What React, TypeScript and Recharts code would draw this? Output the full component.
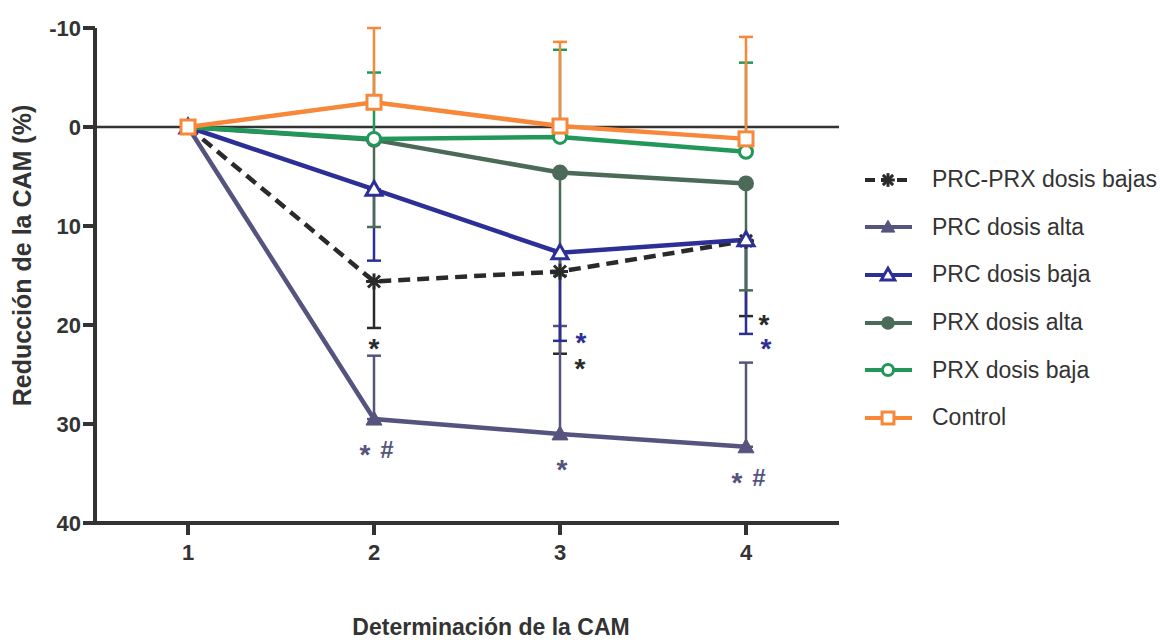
import React from 'react';
import {
  LineChart, Line, XAxis, YAxis, ErrorBar, ReferenceLine, ReferenceDot,
} from 'recharts';

document.body.style.margin = '0';

// x categories: determinación de la CAM
const determinaciones = ['1', '2', '3', '4'];
const yTicks = [-10, 0, 10, 20, 30, 40];

// mean reduction of CAM (%)
const prcPrxBajas = [0, 15.6, 14.6, 11.5];
const prcAlta = [0, 29.5, 31.0, 32.3];
const prcBaja = [0, 6.3, 12.7, 11.4];
const prxAlta = [0, 1.3, 4.6, 5.7];
const prxBaja = [0, 1.2, 1.0, 2.5];
const control = [0, -2.5, -0.1, 1.2];

// one-sided error bars (SD), length in % units
const prcPrxBajasErr = [null, 4.7, 8.3, 7.6];
const prcAltaErr = [null, 6.4, 10.9, 8.5];
const prcBajaErr = [null, 7.2, 8.9, 9.5];
const prxAltaErr = [null, 8.8, 10.4, 10.8];
const prxBajaErr = [null, 6.7, 8.8, 9.0];
const controlErr = [null, 7.5, 8.5, 10.3];

// significance marks: category, value they hang from, text, series
const sigMarks = [
  { det: '2', at: 20.3, text: '*', series: 'prcPrxBajas', place: 'below' },
  { det: '2', at: 29.5, text: '* #', series: 'prcAlta', place: 'under' },
  { det: '3', at: 21.6, text: '*', series: 'prcBaja', place: 'rightUp' },
  { det: '3', at: 22.9, text: '*', series: 'prcPrxBajas', place: 'rightLow' },
  { det: '3', at: 31.0, text: '*', series: 'prcAlta', place: 'under' },
  { det: '4', at: 19.1, text: '*', series: 'prcPrxBajas', place: 'right' },
  { det: '4', at: 20.9, text: '*', series: 'prcBaja', place: 'rightLow' },
  { det: '4', at: 32.3, text: '* #', series: 'prcAlta', place: 'under' },
];

type MarkerKind = 'star' | 'triFilled' | 'triOpen' | 'circleFilled' | 'circleOpen' | 'squareOpen';

const series = [
  { key: 'prcPrxBajas', name: 'PRC-PRX dosis bajas', values: prcPrxBajas, err: prcPrxBajasErr, up: false },
  { key: 'prcAlta', name: 'PRC dosis alta', values: prcAlta, err: prcAltaErr, up: true },
  { key: 'prcBaja', name: 'PRC dosis baja', values: prcBaja, err: prcBajaErr, up: false },
  { key: 'prxAlta', name: 'PRX dosis alta', values: prxAlta, err: prxAltaErr, up: false },
  { key: 'prxBaja', name: 'PRX dosis baja', values: prxBaja, err: prxBajaErr, up: true },
  { key: 'control', name: 'Control', values: control, err: controlErr, up: true },
];

const look: Record<string, { color: string; marker: MarkerKind; dash?: string }> = {
  prcPrxBajas: { color: '#2a2a2a', marker: 'star', dash: '12 7' },
  prcAlta: { color: '#54547f', marker: 'triFilled' },
  prcBaja: { color: '#2c2f95', marker: 'triOpen' },
  prxAlta: { color: '#4b6a57', marker: 'circleFilled' },
  prxBaja: { color: '#22975a', marker: 'circleOpen' },
  control: { color: '#f7883a', marker: 'squareOpen' },
};

// label offsets (px) for each placement of a significance mark
const placeOffset: Record<string, { dx: number; dy: number }> = {
  below: { dx: 0, dy: 15 },
  under: { dx: 2, dy: 30 },
  rightUp: { dx: 21, dy: -4 },
  right: { dx: 18, dy: 3 },
  rightLow: { dx: 20, dy: 9 },
};

const rows = determinaciones.map((det, i) => {
  const row: Record<string, unknown> = { det };
  series.forEach((s) => {
    row[s.key] = s.values[i];
    const e = s.err[i];
    // reversed axis: "up" on screen means smaller values
    row[s.key + 'Err'] = e == null ? null : s.up ? [e, 0] : [0, e];
  });
  return row;
});

const FONT = '"Liberation Sans", Arial, Helvetica, sans-serif';
const INK = '#333333';

function Marker({ cx, cy, kind, color, s = 1 }: { cx: number; cy: number; kind: MarkerKind; color: string; s?: number }) {
  if (cx == null || cy == null) return null;
  switch (kind) {
    case 'star': {
      const r = 8 * s;
      const d = 6 * s;
      return (
        <g stroke={color} strokeWidth={3}>
          <line x1={cx - r} y1={cy} x2={cx + r} y2={cy} />
          <line x1={cx} y1={cy - r} x2={cx} y2={cy + r} />
          <line x1={cx - d} y1={cy - d} x2={cx + d} y2={cy + d} />
          <line x1={cx - d} y1={cy + d} x2={cx + d} y2={cy - d} />
        </g>
      );
    }
    case 'triFilled':
    case 'triOpen': {
      const pts = `${cx},${cy - 8 * s} ${cx - 8 * s},${cy + 6 * s} ${cx + 8 * s},${cy + 6 * s}`;
      return kind === 'triFilled'
        ? <polygon points={pts} fill={color} stroke={color} strokeWidth={1} />
        : <polygon points={pts} fill="#fff" stroke={color} strokeWidth={3} />;
    }
    case 'circleFilled':
      return <circle cx={cx} cy={cy} r={8 * s} fill={color} />;
    case 'circleOpen':
      return <circle cx={cx} cy={cy} r={6.5 * s} fill="#fff" stroke={color} strokeWidth={3} />;
    case 'squareOpen':
      return <rect x={cx - 7 * s} y={cy - 7 * s} width={14 * s} height={14 * s} fill="#fff" stroke={color} strokeWidth={3} />;
    default:
      return null;
  }
}

function SigLabel(props: any) {
  const { viewBox, mark } = props;
  if (!viewBox) return null;
  const off = placeOffset[mark.place];
  // centre of the glyph group
  const x = viewBox.x + (viewBox.width || 0) / 2 + off.dx;
  const y = viewBox.y + (viewBox.height || 0) / 2 + off.dy;
  const tokens = mark.text.split(' ');
  return (
    <text x={x} y={y} textAnchor="middle" fill={look[mark.series].color}
      fontFamily={FONT} fontWeight="bold" fontSize={28}>
      {tokens.map((t: string, i: number) => (
        <tspan key={i} x={tokens.length > 1 ? x + (i - (tokens.length - 1) / 2) * 22 : x}
          y={t === '*' ? y + 15 : y + 9} fontSize={t === '*' ? 28 : 24}>
          {t}
        </tspan>
      ))}
    </text>
  );
}

function YLabel(props: any) {
  const { viewBox } = props;
  if (!viewBox) return null;
  const x = 31;
  const y = viewBox.y + viewBox.height / 2 - 20;
  return (
    <text x={x} y={y} transform={`rotate(-90 ${x} ${y})`} textAnchor="middle"
      fill={INK} fontFamily={FONT} fontWeight="bold" fontSize={25}>
      Reducción de la CAM (%)
    </text>
  );
}

function XLabel(props: any) {
  const { viewBox } = props;
  if (!viewBox) return null;
  return (
    <text x={viewBox.x + viewBox.width / 2 + 24} y={viewBox.y + viewBox.height - 7}
      textAnchor="middle" fill={INK} fontFamily={FONT} fontWeight="bold" fontSize={23}>
      Determinación de la CAM
    </text>
  );
}

function LegendBox() {
  return (
    <div style={{ position: 'absolute', left: 862, top: 156, fontFamily: FONT, fontSize: 23, color: INK }}>
      {series.map((s) => {
        const st = look[s.key];
        return (
          <div key={s.key} style={{ display: 'flex', alignItems: 'center', height: 47.6 }}>
            <svg width={70} height={24} style={{ flexShrink: 0 }}>
              <line x1={3} y1={12} x2={50} y2={12} stroke={st.color} strokeWidth={4}
                strokeDasharray={st.dash ? '10 6' : undefined} />
              <Marker cx={26} cy={12} kind={st.marker} color={st.color} s={0.85} />
            </svg>
            <span style={{ whiteSpace: 'nowrap' }}>{s.name}</span>
          </div>
        );
      })}
    </div>
  );
}

const tickStyle = { fontSize: 22, fontWeight: 'bold', fill: INK, fontFamily: FONT };

export default function App() {
  return (
    <div style={{ position: 'relative', width: 1160, height: 642, background: '#fff' }}>
      <LineChart width={1160} height={642} data={rows}
        margin={{ top: 28, right: 321, left: 0, bottom: 0 }}>
        <XAxis dataKey="det" type="category" height={119} padding={{ left: 93, right: 93 }}
          axisLine={{ stroke: INK, strokeWidth: 4 }}
          tickLine={{ stroke: INK, strokeWidth: 4 }} tickSize={12} tickMargin={9}
          tick={tickStyle} label={<XLabel />} />
        <YAxis type="number" domain={[-10, 40]} ticks={yTicks} reversed width={95}
          allowDataOverflow
          axisLine={{ stroke: INK, strokeWidth: 4 }}
          tickLine={{ stroke: INK, strokeWidth: 4 }} tickSize={12} tickMargin={2}
          tick={tickStyle} label={<YLabel />} />
        <ReferenceLine y={0} stroke={INK} strokeWidth={2.5} />
        {series.map((s) => {
          const st = look[s.key];
          return (
            <Line key={s.key} dataKey={s.key} name={s.name} type="linear"
              stroke={st.color} strokeWidth={4.5} strokeDasharray={st.dash}
              isAnimationActive={false}
              dot={(p: any) => (
                <Marker key={`${s.key}-${p.index}`} cx={p.cx} cy={p.cy} kind={st.marker} color={st.color} />
              )}
              activeDot={false}>
              <ErrorBar dataKey={s.key + 'Err'} width={7} stroke={st.color} strokeWidth={2.5}
                direction="y" isAnimationActive={false} />
            </Line>
          );
        })}
        {sigMarks.map((m, i) => (
          <ReferenceDot key={`sig-${i}`} x={m.det} y={m.at} r={1} fill="none" stroke="none"
            label={<SigLabel mark={m} />} />
        ))}
      </LineChart>
      <LegendBox />
    </div>
  );
}
